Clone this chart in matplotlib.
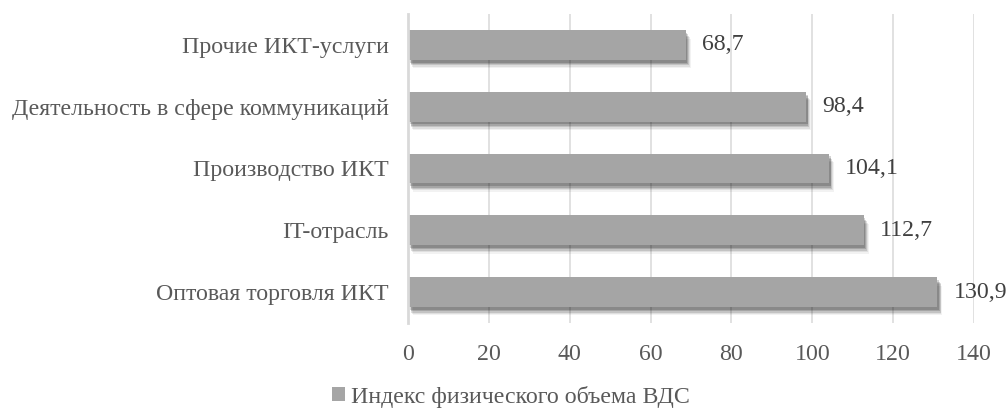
import matplotlib
matplotlib.use('Agg')
import matplotlib.pyplot as plt
import matplotlib.patheffects as pe
from matplotlib.patches import Patch

plt.rcParams['font.family'] = ['Liberation Serif', 'DejaVu Serif']

# Sectors from bottom to top
categories = ['Оптовая торговля ИКТ', 'IT-отрасль', 'Производство ИКТ',
              'Деятельность в сфере коммуникаций', 'Прочие ИКТ-услуги']
values = [130.9, 112.7, 104.1, 98.4, 68.7]
xticks = [0, 20, 40, 60, 80, 100, 120, 140]
series_name = 'Индекс физического объема ВДС'

BAR = '#a5a5a5'
TEXT = '#595959'
GRID = '#d9d9d9'
FS = 17.2

fig = plt.figure(figsize=(10.08, 4.15), dpi=100)
ax = fig.add_axes([0.4048, 0.2217, 0.9663 - 0.4048, 0.9663 - 0.2217])

# soft drop shadow under each bar
shadow = [pe.SimplePatchShadow(offset=(o, -o * 1.7), shadow_rgbFace='black', alpha=a)
          for o, a in [(3.6, 0.05), (3.0, 0.08), (2.4, 0.12), (1.8, 0.15), (1.2, 0.17)]]
bars = ax.barh(range(len(values)), values, height=0.48, color=BAR, zorder=3,
               path_effects=shadow + [pe.Normal()])

for i, v in enumerate(values):
    ax.text(v + 4.0, i, f'{v:.1f}'.replace('.', ','), va='center', ha='left',
            fontsize=FS, color='#404040')

ax.set_xlim(0, 140)
ax.set_ylim(-0.5, len(values) - 0.5)
ax.set_xticks(xticks)
ax.set_yticks(range(len(categories)))
ax.set_yticklabels(categories)
ax.tick_params(axis='both', length=0, labelsize=FS, labelcolor=TEXT)
ax.tick_params(axis='x', pad=15)
ax.tick_params(axis='y', pad=14)
ax.grid(axis='x', color=GRID, linewidth=1.1, zorder=0)
for side in ['top', 'right', 'bottom']:
    ax.spines[side].set_visible(False)
ax.spines['left'].set_color(GRID)
ax.spines['left'].set_linewidth(2)
ax.spines['left'].set_zorder(4)

fig.legend(handles=[Patch(facecolor=BAR, edgecolor='none', label=series_name)],
           loc='center', bbox_to_anchor=(0.507, 0.044), frameon=False,
           fontsize=FS, labelcolor=TEXT, handlelength=0.55, handleheight=0.55,
           handletextpad=0.25)

fig.savefig('out.png', dpi=100)
